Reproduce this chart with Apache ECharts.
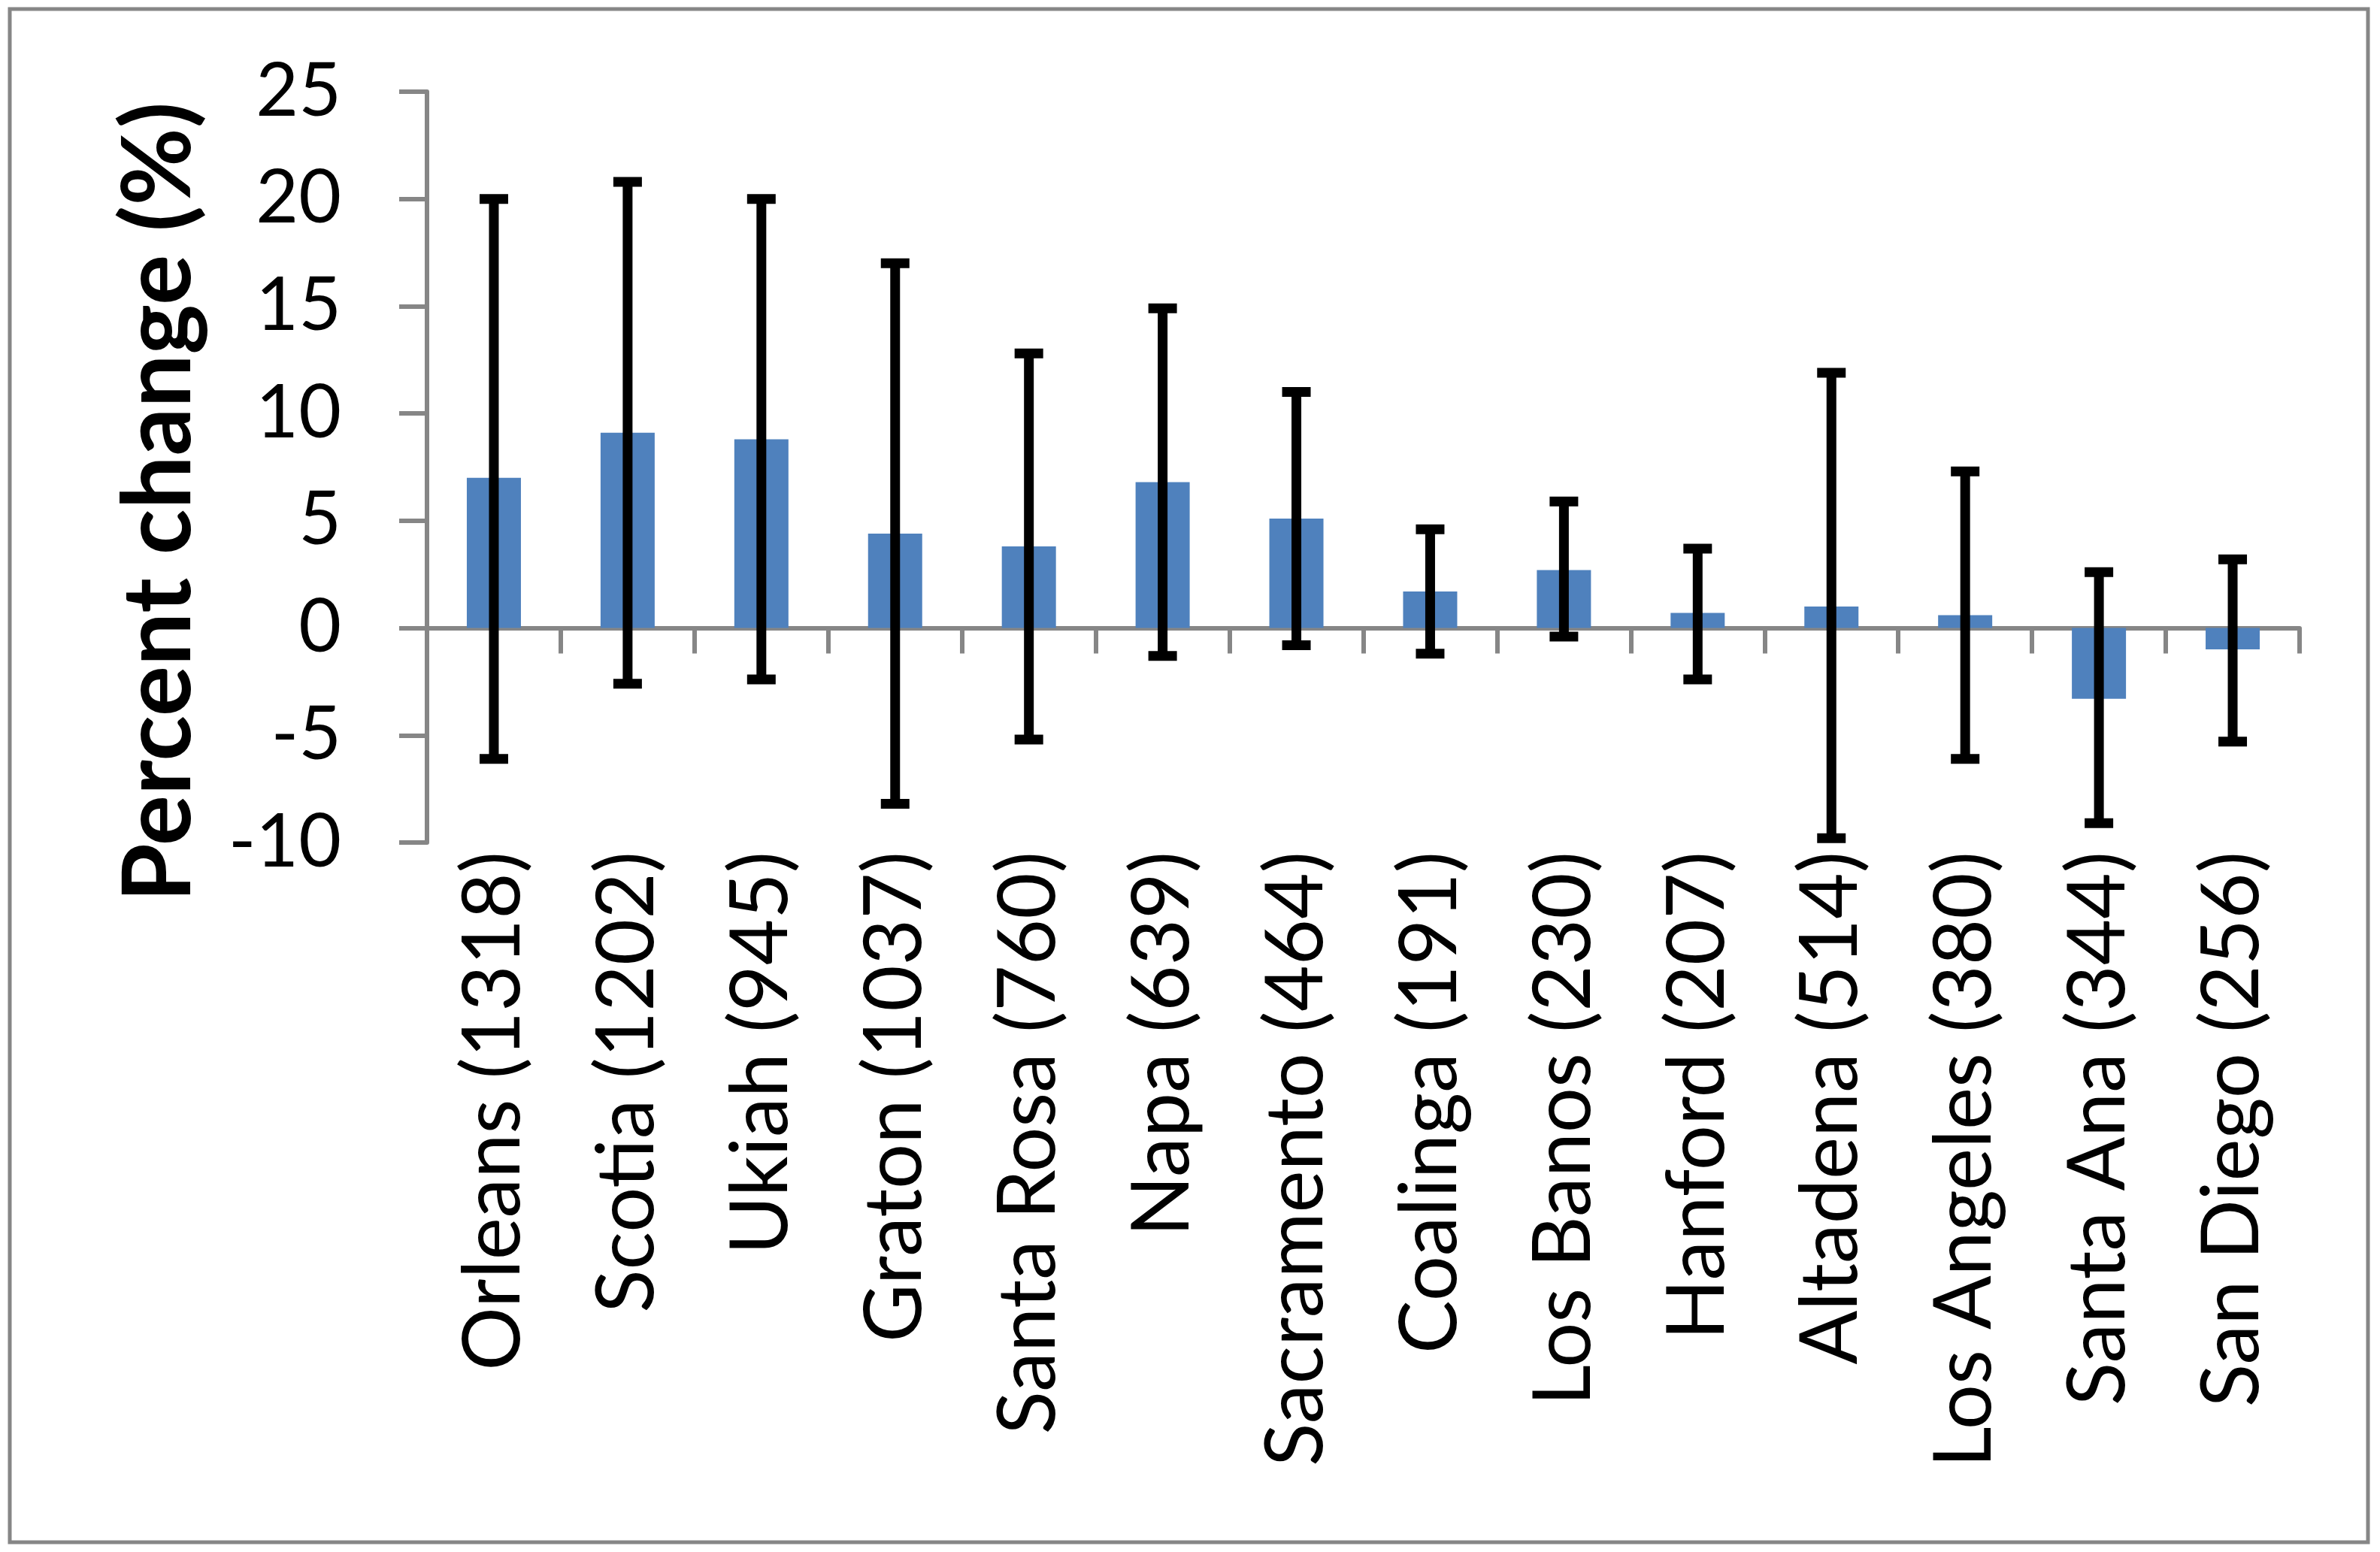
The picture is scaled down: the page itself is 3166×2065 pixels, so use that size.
<!DOCTYPE html>
<html>
<head>
<meta charset="utf-8">
<script src="https://cdn.jsdelivr.net/npm/echarts@6/dist/echarts.min.js"></script>
<style>
html,body{margin:0;padding:0;background:#fff;}
#chart{width:3166px;height:2065px;}
</style>
</head>
<body>
<div id="chart"></div>
<script>
const categories = ['Orleans (1318)', 'Scotia (1202)', 'Ukiah (945)', 'Graton (1037)', 'Santa Rosa (760)', 'Napa (639)', 'Sacramento (464)', 'Coalinga (191)', 'Los Banos (230)', 'Hanford (207)', 'Altadena (514)', 'Los Angeles (380)', 'Santa Ana (344)', 'San Diego (256)'];
const values = [7.0, 9.1, 8.8, 4.4, 3.8, 6.8, 5.1, 1.7, 2.7, 0.7, 1.0, 0.6, -3.3, -1.0];
const lower = [-6.1, -2.6, -2.4, -8.2, -5.2, -1.3, -0.8, -1.2, -0.4, -2.4, -9.8, -6.1, -9.1, -5.3];
const upper = [20.0, 20.8, 20.0, 17.0, 12.8, 14.9, 11.0, 4.6, 5.9, 3.7, 11.9, 7.3, 2.6, 3.2];
const yTitle = 'Percent change (%)';

const axisGray = '#868686';
const errData = categories.map((c, i) => [i, lower[i], upper[i]]);

const chart = echarts.init(document.getElementById('chart'), null, {renderer: 'canvas'});
chart.setOption({
  animation: false,
  backgroundColor: '#ffffff',
  grid: {left: 568, right: 107, top: 122, bottom: 944, containLabel: false},
  graphic: [
    {type: 'rect', shape: {x: 13, y: 12, width: 3137, height: 2040},
     style: {fill: 'none', stroke: axisGray, lineWidth: 5}, silent: true},
    {type: 'text', x: 212, y: 668, rotation: Math.PI / 2,
     style: {text: yTitle, fontFamily: 'Lato', fontWeight: 'bold', fontSize: 126,
             fill: '#000', align: 'center', verticalAlign: 'middle'}}
  ],
  xAxis: [
    {type: 'category', data: categories, boundaryGap: true,
     axisLine: {show: true, onZero: true, lineStyle: {color: axisGray, width: 6}},
     axisTick: {show: true, inside: false, length: 34, interval: 0, lineStyle: {color: axisGray, width: 6}},
     axisLabel: {show: false}, splitLine: {show: false}},
    {type: 'category', data: categories, position: 'bottom', boundaryGap: true,
     axisLine: {show: false, onZero: false}, axisTick: {show: false},
     axisLabel: {show: true, interval: 0, rotate: 90, margin: 12,
                 fontFamily: 'Lato', fontSize: 106, color: '#000'},
     splitLine: {show: false}}
  ],
  yAxis: {
    type: 'value', min: -10, max: 25, interval: 5,
    axisLine: {show: true, lineStyle: {color: axisGray, width: 6}},
    axisTick: {show: true, inside: false, length: 37, lineStyle: {color: axisGray, width: 6}},
    axisLabel: {show: true, margin: 114, fontFamily: 'Lato', fontSize: 98, color: '#000'},
    splitLine: {show: false}
  },
  series: [
    {type: 'bar', xAxisIndex: 0, data: values, barWidth: 72,
     itemStyle: {color: '#4F81BD'}, z: 2},
    {type: 'custom', xAxisIndex: 0, data: errData, z: 3,
     renderItem: function (params, api) {
       const x = api.value(0);
       const lo = api.coord([x, api.value(1)]);
       const hi = api.coord([x, api.value(2)]);
       const half = 19;
       const st = {stroke: '#000', lineWidth: 13};
       return {type: 'group', children: [
         {type: 'line', shape: {x1: lo[0], y1: lo[1], x2: hi[0], y2: hi[1]}, style: st},
         {type: 'line', shape: {x1: hi[0] - half, y1: hi[1], x2: hi[0] + half, y2: hi[1]}, style: st},
         {type: 'line', shape: {x1: lo[0] - half, y1: lo[1], x2: lo[0] + half, y2: lo[1]}, style: st}
       ]};
     }}
  ]
});
</script>
</body>
</html>
